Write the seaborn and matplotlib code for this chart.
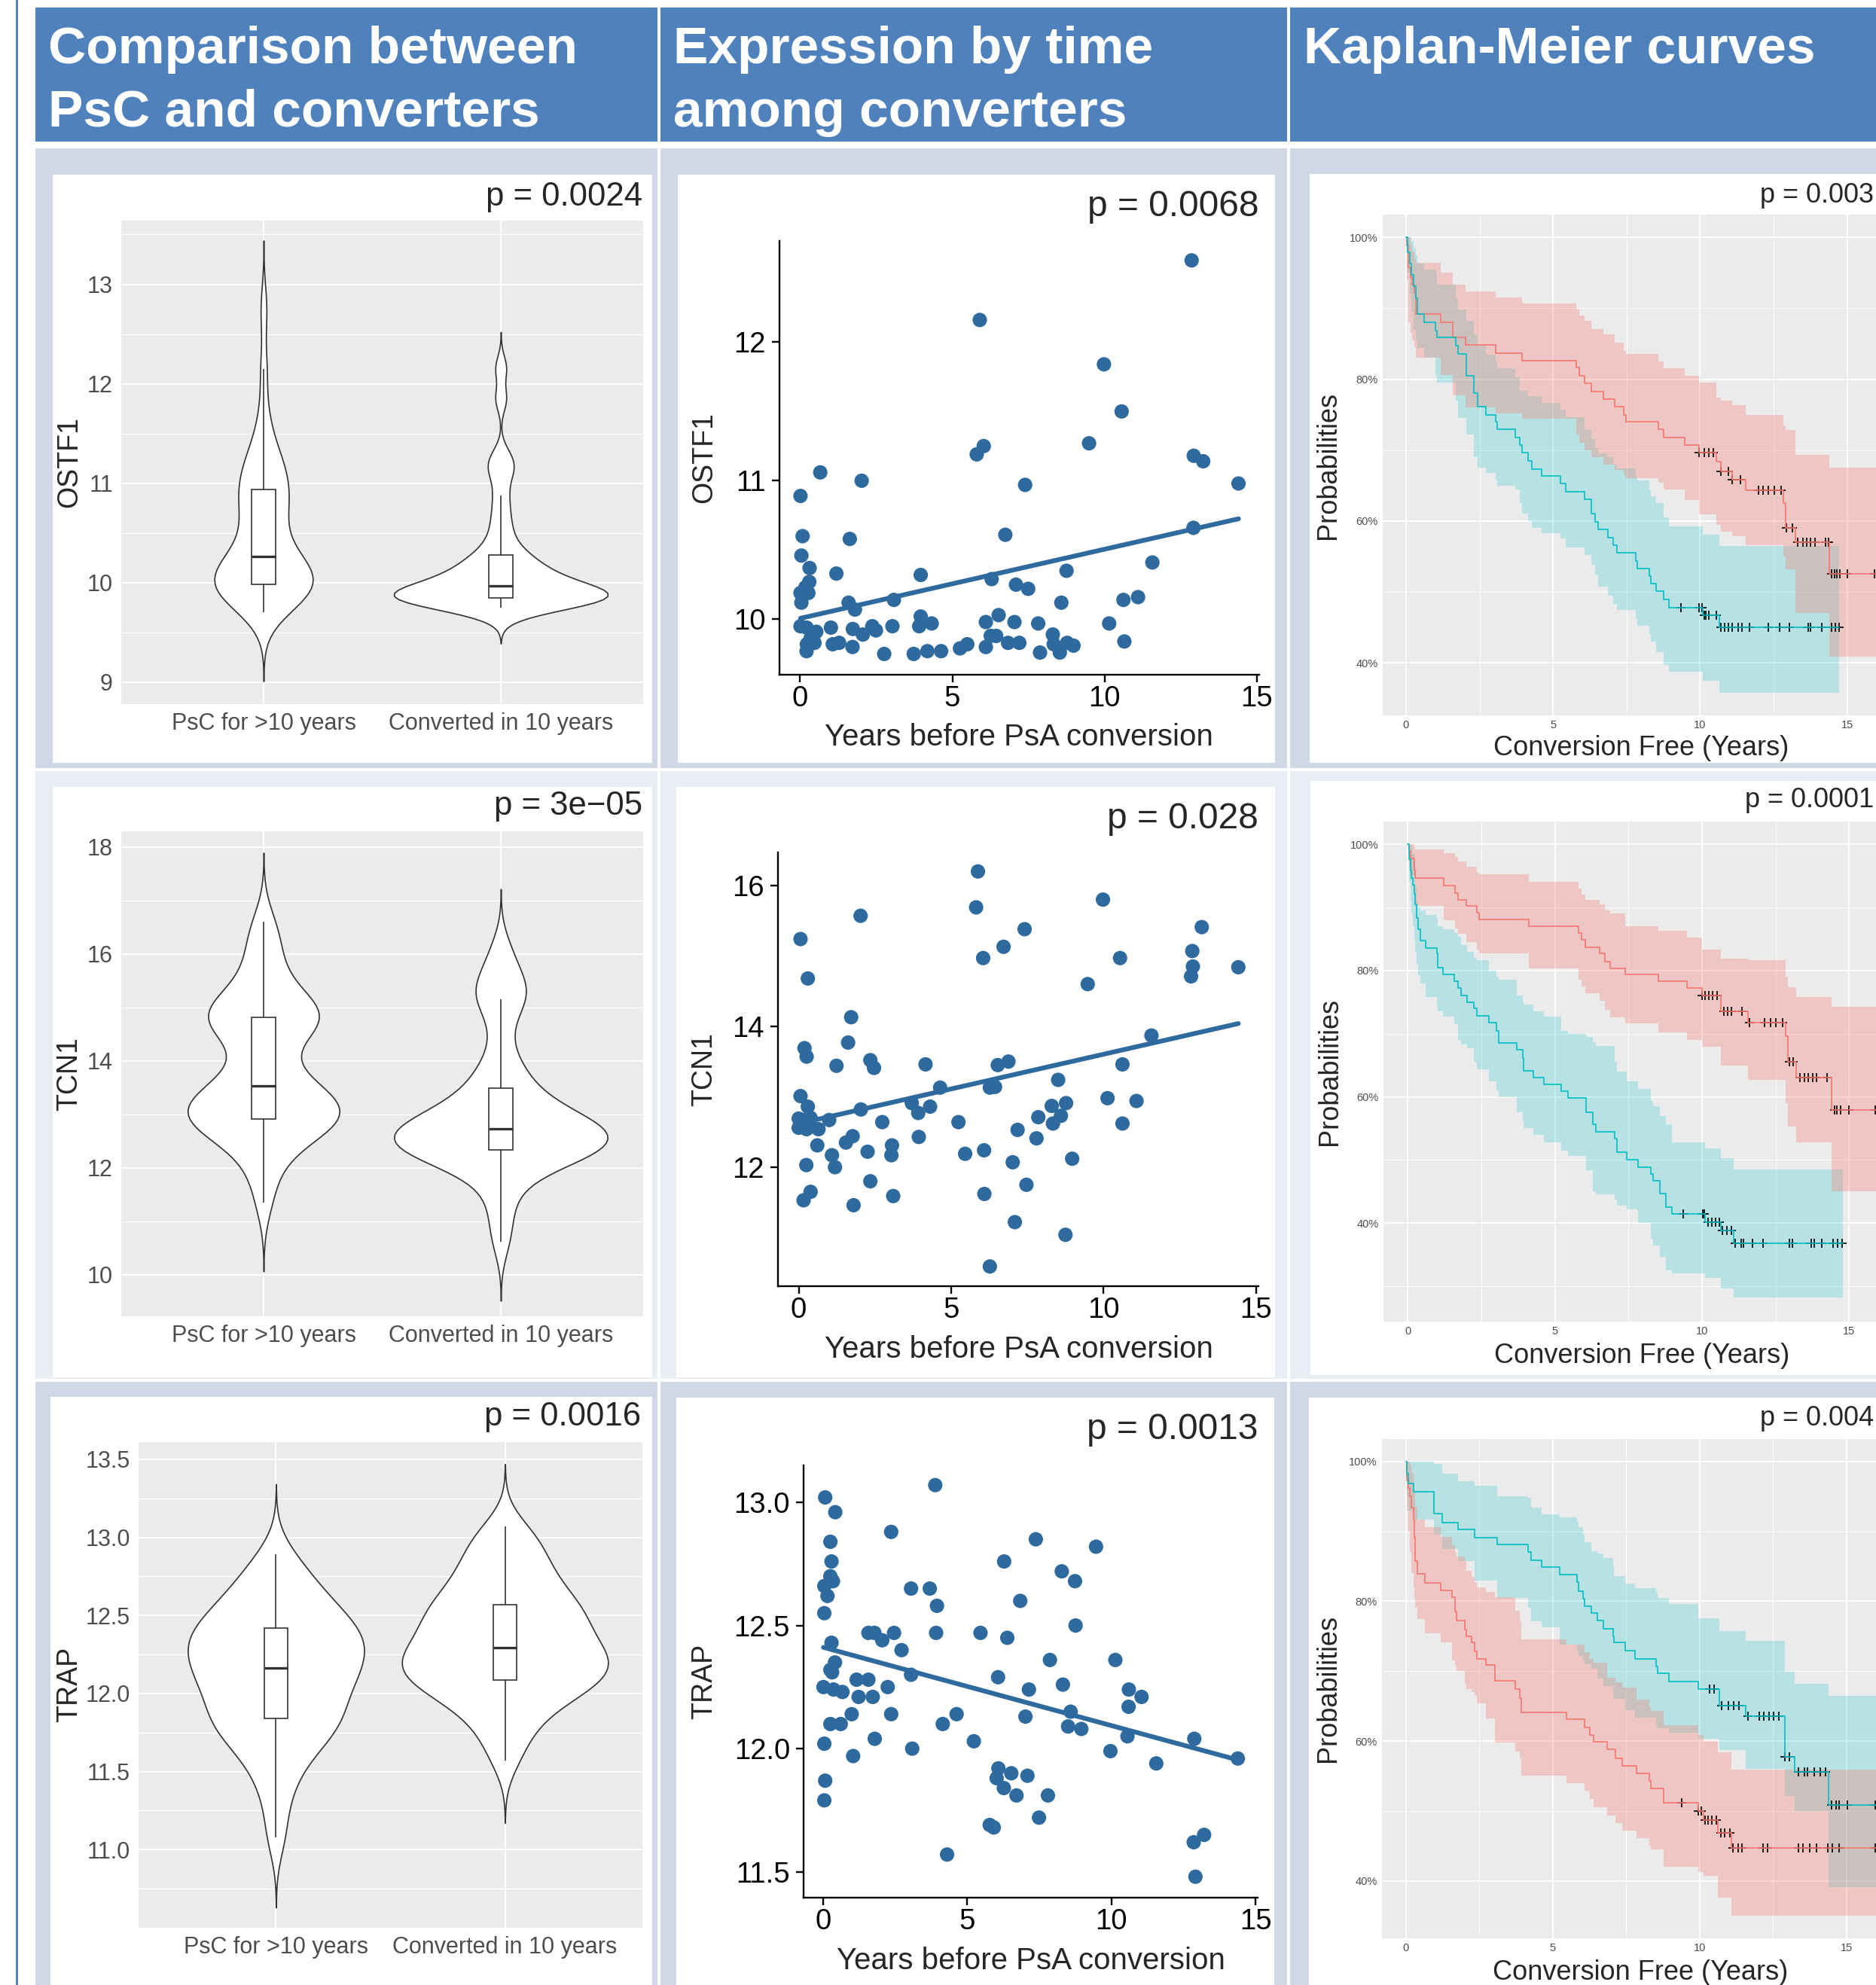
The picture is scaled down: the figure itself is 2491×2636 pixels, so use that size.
import numpy as np
import pandas as pd
import matplotlib
matplotlib.use("Agg")
import matplotlib.pyplot as plt
from matplotlib.patches import Rectangle
from matplotlib.ticker import MultipleLocator, FormatStrFormatter, FuncFormatter
import seaborn as sns

# ---------------- data ----------------
groups = ['PsC for >10 years', 'Converted in 10 years']

# violin panels: expression values per group
ostf1_psc = [9.70, 9.76, 9.81, 9.85, 9.88, 9.91, 9.93, 9.95, 9.96, 9.97,
             9.99, 10.01, 10.04, 10.07, 10.10, 10.13, 10.16, 10.19, 10.21, 10.23,
             10.30, 10.38, 10.46, 10.54, 10.62, 10.69, 10.76, 10.82, 10.87, 10.92,
             10.98, 11.04, 11.10, 11.17, 11.24, 11.32, 11.45, 11.70, 12.15, 12.75]
ostf1_conv = [9.75, 9.77, 9.79, 9.80, 9.81, 9.82, 9.83, 9.83, 9.84, 9.84,
              9.85, 9.86, 9.87, 9.88, 9.89, 9.90, 9.92, 9.93, 9.94, 9.96,
              9.98, 10.00, 10.03, 10.06, 10.09, 10.12, 10.15, 10.19, 10.22, 10.26,
              10.33, 10.42, 10.55, 10.70, 10.88, 11.08, 11.18, 11.28, 11.85, 12.16]
tcn1_psc = [11.35, 11.85, 12.15, 12.40, 12.55, 12.68, 12.76, 12.82, 12.86, 12.88,
            12.92, 12.98, 13.04, 13.10, 13.15, 13.20, 13.26, 13.33, 13.40, 13.48,
            13.58, 13.72, 13.90, 14.20, 14.50, 14.62, 14.70, 14.75, 14.78, 14.80,
            14.85, 14.92, 15.00, 15.10, 15.25, 15.45, 15.70, 16.00, 16.30, 16.60]
tcn1_conv = [10.62, 11.10, 11.50, 11.80, 12.00, 12.10, 12.18, 12.24, 12.28, 12.30,
             12.34, 12.38, 12.42, 12.46, 12.50, 12.54, 12.58, 12.62, 12.66, 12.70,
             12.74, 12.78, 12.83, 12.88, 12.94, 13.00, 13.08, 13.18, 13.30, 13.45,
             13.60, 13.80, 14.00, 14.50, 15.00, 15.15, 15.30, 15.45, 15.70, 16.10]
trap_psc = [11.08, 11.30, 11.45, 11.55, 11.62, 11.68, 11.73, 11.77, 11.80, 11.82,
            11.85, 11.89, 11.93, 11.97, 12.01, 12.04, 12.07, 12.10, 12.13, 12.15,
            12.18, 12.21, 12.24, 12.27, 12.29, 12.31, 12.34, 12.36, 12.39, 12.41,
            12.44, 12.47, 12.50, 12.54, 12.58, 12.62, 12.67, 12.73, 12.80, 12.89]
trap_conv = [11.57, 11.70, 11.79, 11.86, 11.92, 11.96, 12.00, 12.03, 12.05, 12.07,
             12.09, 12.12, 12.14, 12.16, 12.18, 12.20, 12.22, 12.24, 12.26, 12.28,
             12.31, 12.34, 12.37, 12.40, 12.43, 12.46, 12.49, 12.52, 12.54, 12.56,
             12.60, 12.64, 12.68, 12.72, 12.77, 12.82, 12.88, 12.94, 13.00, 13.07]

# scatter panels: years before conversion vs expression
years_ostf1 = [12.86, 5.90, 9.98, 10.56, 9.49, 6.03, 5.80, 12.93, 13.24, 0.66,
               2.02, 7.39, 14.40, 0.01, 12.92, 6.74, 0.08, 1.63, 0.04, 0.31,
               1.19, 3.96, 11.57, 8.75, 0.30, 0.17, 6.29, 7.09, 7.49, 0.01,
               0.27, 0.04, 1.59, 1.80, 3.08, 8.58, 10.62, 11.10, 6.52, 3.96,
               3.91, 4.32, 6.10, 7.04, 7.82, 10.15, 0.01, 0.21, 0.53, 1.01,
               1.73, 2.06, 2.37, 2.49, 3.03, 0.34, 0.22, 0.47, 0.21, 1.07,
               1.28, 1.72, 2.76, 3.73, 4.18, 4.63, 5.25, 5.49, 6.10, 6.26,
               6.44, 6.83, 7.20, 7.88, 8.30, 8.33, 8.53, 8.77, 8.98, 10.65]
expr_ostf1 = [12.59, 12.16, 11.84, 11.50, 11.27, 11.25, 11.19, 11.18, 11.14, 11.06,
              11.00, 10.97, 10.98, 10.89, 10.66, 10.61, 10.60, 10.58, 10.46, 10.37,
              10.33, 10.32, 10.41, 10.35, 10.27, 10.23, 10.29, 10.25, 10.22, 10.19,
              10.19, 10.12, 10.12, 10.07, 10.14, 10.12, 10.14, 10.16, 10.03, 10.02,
              9.95, 9.97, 9.98, 9.98, 9.97, 9.97, 9.95, 9.94, 9.91, 9.94,
              9.93, 9.89, 9.95, 9.92, 9.95, 9.86, 9.82, 9.83, 9.77, 9.82,
              9.83, 9.80, 9.75, 9.75, 9.77, 9.77, 9.79, 9.82, 9.80, 9.88,
              9.88, 9.83, 9.83, 9.76, 9.89, 9.82, 9.76, 9.83, 9.81, 9.84]
years_tcn1 = [5.88, 5.82, 9.98, 2.03, 7.41, 13.22, 0.06, 6.72, 12.91, 6.05,
              10.54, 14.42, 12.93, 12.87, 0.30, 9.48, 1.72, 11.57, 1.62, 0.19,
              0.26, 2.35, 6.88, 6.53, 4.16, 10.62, 1.24, 2.47, 8.51, 4.64,
              6.27, 6.44, 0.06, 10.13, 11.08, 8.77, 3.71, 0.30, 4.31, 8.30,
              3.92, 2.04, 8.60, 7.86, 0.00, 1.00, 0.39, 8.34, 10.62, 2.74,
              5.24, 0.00, 0.26, 0.65, 7.18, 1.77, 3.94, 7.80, 1.55, 0.61,
              3.06, 2.26, 6.08, 1.09, 3.04, 5.46, 8.97, 1.19, 0.25, 7.02,
              2.35, 7.47, 0.39, 0.16, 3.10, 6.09, 1.80, 7.09, 8.75, 6.27,
              0.17, 0.30]
expr_tcn1 = [16.20, 15.69, 15.80, 15.57, 15.38, 15.41, 15.24, 15.13, 15.07, 14.97,
             14.97, 14.84, 14.85, 14.71, 14.68, 14.60, 14.13, 13.87, 13.77, 13.69,
             13.57, 13.52, 13.50, 13.45, 13.46, 13.46, 13.44, 13.41, 13.24, 13.13,
             13.13, 13.14, 13.01, 12.98, 12.94, 12.91, 12.91, 12.86, 12.86, 12.87,
             12.77, 12.82, 12.73, 12.71, 12.69, 12.67, 12.70, 12.62, 12.62, 12.64,
             12.64, 12.56, 12.54, 12.54, 12.53, 12.44, 12.43, 12.41, 12.35, 12.31,
             12.31, 12.22, 12.24, 12.17, 12.17, 12.19, 12.12, 12.00, 12.03, 12.07,
             11.80, 11.75, 11.65, 11.53, 11.59, 11.62, 11.46, 11.22, 11.04, 10.59,
             12.67, 12.56]
years_trap = [3.89, 0.07, 0.42, 2.36, 7.38, 9.47, 0.25, 0.29, 6.28, 8.28,
              0.25, 0.34, 0.04, 8.74, 3.05, 3.70, 0.15, 6.84, 3.95, 0.04,
              8.76, 1.57, 1.78, 2.46, 3.92, 5.46, 6.39, 2.05, 0.29, 2.72,
              7.87, 10.14, 0.41, 0.25, 0.31, 3.05, 6.07, 1.16, 1.57, 8.32,
              0.01, 0.36, 2.24, 0.67, 7.14, 10.61, 11.05, 1.23, 1.72, 8.59,
              10.60, 2.36, 0.99, 4.63, 7.02, 0.25, 0.61, 4.15, 8.50, 8.96,
              1.79, 10.56, 12.88, 5.23, 0.04, 3.09, 9.97, 1.04, 14.39, 11.56,
              6.08, 6.53, 7.09, 0.07, 6.02, 6.27, 6.71, 7.80, 0.04, 7.49,
              5.78, 5.92, 13.22, 12.86, 4.30, 12.92]
expr_trap = [13.07, 13.02, 12.96, 12.88, 12.85, 12.82, 12.84, 12.76, 12.76, 12.72,
             12.70, 12.68, 12.66, 12.68, 12.65, 12.65, 12.62, 12.60, 12.58, 12.55,
             12.50, 12.47, 12.47, 12.47, 12.47, 12.47, 12.45, 12.44, 12.43, 12.40,
             12.36, 12.36, 12.35, 12.32, 12.31, 12.30, 12.29, 12.28, 12.28, 12.26,
             12.25, 12.24, 12.25, 12.23, 12.24, 12.24, 12.21, 12.21, 12.21, 12.15,
             12.17, 12.14, 12.14, 12.14, 12.13, 12.10, 12.10, 12.10, 12.09, 12.08,
             12.04, 12.05, 12.04, 12.03, 12.02, 12.00, 11.99, 11.97, 11.96, 11.94,
             11.92, 11.90, 11.89, 11.87, 11.88, 11.84, 11.81, 11.81, 11.79, 11.72,
             11.69, 11.68, 11.65, 11.62, 11.57, 11.48]

# Kaplan-Meier panels: step times, survival %, lower / upper CI %, censor times
km1_red_t = [0, 0.03, 0.08, 0.15, 0.22, 0.28, 0.33, 1.19, 1.60, 2.02, 3.06, 3.94, 5.80, 5.90, 6.06, 6.29,
             6.72, 7.09, 7.40, 7.48, 8.58, 8.75, 9.48, 9.97, 10.56, 10.71, 11.10, 11.55, 12.84, 12.91, 13.23, 14.39]
km1_red_s = [100, 98.8, 95.8, 94.4, 93.3, 92.2, 89.2, 88.0, 85.9, 84.8, 83.7, 82.6, 81.6, 80.5, 79.4, 78.3,
             77.2, 76.1, 75.0, 74.0, 72.9, 71.8, 70.7, 69.6, 68.4, 67.0, 65.8, 64.3, 62.5, 59.0, 57.0, 52.6]
km1_red_lo = [100, 94, 88, 86.5, 85.5, 84.5, 83.0, 80.6, 77.7, 76.0, 75.2, 74.4, 72.2, 71.0, 70.0, 69.0,
              68.0, 67.2, 66.5, 66.0, 65.4, 64.5, 63.0, 60.9, 59.5, 58.5, 57.9, 56.6, 55.0, 53.2, 47.0, 40.9]
km1_red_hi = [100, 100, 100, 99, 98, 97, 96.4, 95.0, 93.3, 92.4, 91.5, 90.7, 89.8, 89.0, 88.2, 87.1,
              86.3, 85.2, 84.0, 83.6, 82.5, 81.5, 80.5, 79.5, 77.4, 77.0, 76.3, 75.0, 73.5, 72.8, 69.3, 67.5]
km1_red_cens = [9.97, 10.13, 10.30, 10.45, 10.71, 10.95, 11.10, 11.36, 11.98, 12.13, 12.33, 12.52, 12.75,
                12.93, 13.14, 13.32, 13.49, 13.62, 13.75, 13.91, 14.26, 14.37, 14.46, 14.56, 14.65, 14.74,
                15.01, 15.94]
km1_teal_t = [0, 0.06, 0.12, 0.18, 0.27, 0.34, 0.40, 0.63, 0.99, 1.06, 1.69, 1.77, 2.05, 2.31, 2.44, 2.73,
              3.05, 3.11, 3.71, 3.86, 3.95, 4.15, 4.28, 4.61, 5.25, 5.44, 6.06, 6.29, 6.42, 6.54, 6.86,
              7.04, 7.16, 7.80, 7.87, 8.28, 8.32, 8.51, 8.77, 8.94, 10.10, 10.65]
km1_teal_s = [100, 97.9, 96.3, 94.7, 93.1, 91.4, 89.2, 88.0, 86.8, 85.9, 84.7, 83.6, 80.5, 78.0, 76.1, 75.0,
              74.0, 72.9, 71.8, 70.7, 69.6, 68.5, 67.3, 66.4, 65.3, 64.1, 63.1, 61.0, 59.9, 58.8, 57.7,
              56.6, 55.5, 54.4, 53.3, 52.2, 51.2, 50.1, 48.9, 47.8, 46.7, 45.0]
km1_teal_lo = [100, 95, 92, 89.5, 87, 85.5, 84.4, 83.0, 80.6, 79.5, 77.0, 74.5, 72.2, 69.0, 67.5, 66.8,
               65.7, 65.0, 64.4, 62.5, 61.1, 60.0, 59.0, 58.3, 57.6, 56.3, 55.2, 53.8, 52.5, 50.8, 49.5,
               48.3, 47.5, 46.2, 45.2, 44.1, 43.0, 41.5, 39.7, 38.8, 37.5, 35.8]
km1_teal_hi = [100, 100, 100, 99.5, 98.5, 97.5, 96.3, 95.5, 95.0, 93.3, 91.4, 89.8, 88.2, 86.3, 84.7, 83.5,
               82.5, 81.5, 80.3, 78.4, 78.4, 77.6, 77.6, 76.7, 75.7, 74.6, 72.8, 71.6, 70.3, 69.5, 69.0,
               68.0, 67.4, 66.5, 65.7, 64.4, 63.5, 62.5, 60.5, 59.2, 58.1, 56.5]
km1_teal_cens = [9.35, 9.97, 10.06, 10.13, 10.19, 10.30, 10.56, 10.71, 10.84, 10.97, 11.10, 11.29, 11.42,
                 11.68, 12.33, 12.71, 13.04, 13.68, 13.75, 14.13, 14.46, 14.59, 14.72]

km2_red_t = [0, 0.04, 0.09, 0.22, 0.26, 1.23, 1.61, 1.70, 2.00, 2.36, 2.43, 4.13, 5.81, 5.90, 6.04, 6.52,
             6.71, 6.87, 7.38, 8.52, 9.49, 10.00, 10.65, 11.55, 12.84, 12.91, 13.21, 14.39]
km2_red_s = [100, 98.9, 97.8, 96.0, 94.6, 93.5, 92.3, 91.2, 90.2, 89.2, 88.1, 87.0, 85.9, 84.9, 83.7, 82.7,
             81.4, 80.4, 79.4, 78.3, 77.2, 76.1, 73.5, 71.8, 69.6, 65.5, 63.1, 57.9]
km2_red_lo = [100, 96.4, 95.0, 93.3, 90.2, 88.0, 86.7, 85.8, 84.5, 83.3, 82.7, 80.3, 78.6, 77.5, 76.4, 75.2,
              73.8, 72.6, 71.6, 70.2, 69.0, 67.9, 64.9, 62.7, 59.0, 55.3, 52.8, 45.0]
km2_red_hi = [100, 100, 100, 99.5, 99.2, 98.6, 98.0, 97.3, 96.5, 95.5, 95.2, 94.0, 93.0, 92.0, 91.2, 90.5,
              89.5, 89.0, 87.0, 86.3, 85.2, 83.3, 81.9, 81.6, 79.0, 77.4, 75.8, 74.3]
km2_red_cens = [10.00, 10.11, 10.24, 10.37, 10.52, 10.75, 10.88, 11.01, 11.36, 11.62, 12.13, 12.33, 12.52,
                12.74, 12.97, 13.10, 13.33, 13.49, 13.62, 13.75, 13.90, 14.26, 14.50, 14.59, 14.72, 15.00,
                15.88]
km2_teal_t = [0, 0.04, 0.09, 0.13, 0.17, 0.22, 0.26, 0.30, 0.36, 0.43, 0.61, 0.99, 1.02, 1.20, 1.59, 1.72,
              1.81, 2.03, 2.26, 2.35, 2.75, 3.03, 3.10, 3.72, 3.90, 3.94, 4.26, 4.62, 5.23, 5.45, 6.07,
              6.29, 6.39, 7.03, 7.12, 7.45, 7.83, 8.26, 8.35, 8.58, 8.78, 8.97, 10.11, 10.65, 11.08]
km2_teal_s = [100, 97.6, 95.9, 94.6, 93.6, 92.1, 90.5, 88.3, 86.5, 84.7, 83.6, 82.7, 80.5, 79.4, 78.3, 77.2,
              76.1, 75.0, 74.0, 72.8, 71.8, 70.5, 68.5, 67.4, 66.2, 64.1, 63.1, 62.0, 60.9, 59.8, 57.6,
              55.6, 54.4, 53.4, 51.2, 50.1, 48.9, 47.8, 46.7, 44.7, 42.5, 41.4, 40.1, 38.8, 36.8]
km2_teal_lo = [100, 94, 91, 89, 87, 85, 83, 81, 79.3, 77.9, 75.8, 74.5, 73.5, 72.7, 71.5, 69.0,
               68.3, 67.7, 65.5, 64.3, 62.5, 61.0, 59.9, 57.5, 56.2, 55.0, 54.0, 52.8, 51.5, 50.6, 48.4,
               45.0, 44.5, 43.7, 42.8, 42.2, 40.0, 37.5, 36.5, 34.7, 32.5, 32.0, 31.3, 29.7, 28.2]
km2_teal_hi = [100, 100, 100, 99.5, 98.5, 96, 93, 90.8, 90, 89.5, 88.8, 88.1, 87, 86.5, 86, 85.3,
               84, 83, 82, 81.6, 80, 79, 78.6, 76, 75, 74.6, 73.5, 72.7, 70.5, 70, 69.5,
               68.7, 68, 65.5, 64, 62.4, 61.2, 59.3, 58.5, 57, 55.6, 52.8, 51.8, 50.3, 48.5]
km2_teal_cens = [9.36, 10.03, 10.09, 10.20, 10.33, 10.46, 10.58, 10.69, 10.84, 11.00, 11.13, 11.33, 11.42,
                 11.72, 12.07, 12.97, 13.06, 13.71, 13.81, 14.07, 14.46, 14.61, 14.75]

km3_teal_t = [0, 0.04, 0.09, 0.26, 0.97, 1.23, 1.78, 2.33, 3.10, 4.16, 4.27, 4.63, 5.24, 5.82, 5.88, 6.04,
              6.08, 6.31, 6.53, 6.72, 7.05, 7.09, 7.47, 7.80, 8.51, 8.57, 8.95, 9.96, 10.67, 11.57, 12.91,
              13.23, 14.39]
km3_teal_s = [100, 98.2, 96.8, 95.7, 92.5, 91.3, 90.3, 89.1, 88.1, 87.1, 85.9, 84.9, 83.8, 82.7, 81.5, 80.4,
              79.3, 78.3, 77.3, 76.1, 75.0, 74.1, 72.9, 71.8, 70.7, 69.7, 68.5, 67.5, 65.1, 63.6, 57.8,
              55.6, 50.9]
km3_teal_lo = [100, 95, 93, 91.7, 89.5, 87.5, 85.8, 83.0, 80.5, 79.1, 77.1, 76.3, 73.8, 72.8, 72.2, 71.5,
               71.0, 70.4, 69.0, 67.9, 66.8, 66.0, 64.4, 63.4, 62.3, 61.8, 61.2, 60.3, 58.7, 56.0, 52.2,
               50.0, 39.1]
km3_teal_hi = [100, 100, 100, 100, 99.6, 98.2, 97.2, 96.5, 95.0, 94.8, 93.4, 92.4, 92.0, 91.4, 90.6, 89.5,
               88.5, 87.2, 86.8, 86.2, 85, 83.6, 82.5, 81.9, 81.3, 80.5, 79.6, 77.6, 75.7, 74.3, 69.9,
               68.2, 66.5]
km3_teal_cens = [10.35, 10.50, 10.76, 10.97, 11.15, 11.33, 11.64, 12.03, 12.18, 12.35, 12.52, 12.70, 12.91,
                 13.06, 13.35, 13.58, 13.68, 13.90, 14.10, 14.29, 14.48, 14.64, 14.74, 15.03, 15.97]
km3_red_t = [0, 0.04, 0.09, 0.13, 0.19, 0.26, 0.28, 0.32, 0.39, 0.65, 1.19, 1.58, 1.68, 1.72, 2.00, 2.07,
             2.24, 2.33, 2.43, 2.72, 3.04, 3.72, 3.88, 3.94, 5.46, 6.08, 6.27, 6.40, 6.85, 7.14, 7.37,
             7.86, 8.28, 8.34, 8.77, 9.96, 10.13, 10.63, 11.07]
km3_red_s = [100, 97.3, 96.2, 95.0, 93.4, 91.7, 89.2, 85.8, 83.9, 82.6, 81.6, 80.6, 78.5, 77.3, 76.0, 75.0,
             74.1, 72.8, 71.8, 70.9, 68.6, 67.5, 66.2, 64.1, 63.1, 62.0, 60.9, 59.9, 58.8, 57.5, 56.5,
             55.4, 54.3, 53.2, 51.2, 50.0, 48.7, 46.9, 44.7]
km3_red_lo = [100, 93, 90, 87, 84, 82, 80.5, 79.1, 77.5, 75.4, 74.1, 71.5, 70.8, 70.0, 68.2, 67.5,
              67.0, 66.6, 65.4, 63.2, 59.8, 58.5, 57.5, 55.1, 54.0, 52.9, 51.7, 50.5, 49.4, 48.3, 47.2,
              46.1, 45.0, 44.5, 42.0, 41.3, 40.7, 37.6, 35.0]
km3_red_hi = [100, 100, 100, 99.5, 98.5, 97.3, 95.5, 93.5, 91.7, 90.6, 89.2, 88.0, 87.0, 86.4, 85.8, 84.4,
              83.5, 82.7, 82.0, 81.3, 80.6, 78.7, 77.1, 74.6, 73.8, 72.7, 71.8, 71.2, 69.1, 68.4, 67.7,
              65.9, 65.0, 64.3, 62.3, 60.9, 60.0, 58.4, 55.9]
km3_red_cens = [9.38, 9.96, 10.06, 10.18, 10.28, 10.41, 10.58, 10.71, 10.86, 11.02, 11.12, 11.32, 11.44,
                12.16, 12.32, 13.35, 13.51, 13.75, 13.97, 14.35, 14.51, 14.74, 15.97]

# ---------------- figure set-up ----------------
W, H = 2491, 2636
BLUE = '#4F81BD'
ROW_DARK = '#D0D8E8'
ROW_LIGHT = '#E9EDF4'
POINT = '#2E6A9E'
RED = '#F8766D'
TEAL = '#00BFC4'

sns.set_style("white")
plt.rcParams['font.family'] = ['Liberation Sans', 'DejaVu Sans']

fig = plt.figure(figsize=(W / 100, H / 100), dpi=100)


def box(x0, y0, x1, y1, color):
    fig.add_artist(Rectangle((x0 / W, 1 - y1 / H), (x1 - x0) / W, (y1 - y0) / H,
                             transform=fig.transFigure, facecolor=color,
                             edgecolor='none', zorder=-5))


def axes_px(x0, y0, x1, y1):
    return fig.add_axes([x0 / W, 1 - y1 / H, (x1 - x0) / W, (y1 - y0) / H])


def text_px(x, y, s, **kw):
    fig.text(x / W, 1 - y / H, s, **kw)


# table background (header, banded rows, white cell borders)
box(21, 0, 24, H, BLUE)
box(47, 10, W, 188, BLUE)
box(47, 197, W, 1020, ROW_DARK)
box(47, 1024, W, 1831, ROW_LIGHT)
box(47, 1835, W, H, ROW_DARK)
for xs in (873, 1709):
    box(xs, 0, xs + 4, H, 'white')

# white panels behind each plot
for p in [(70, 232, 866, 1013), (900, 232, 1693, 1013), (1739, 231, W, 1013),
          (70, 1045, 866, 1829), (898, 1045, 1693, 1829), (1740, 1037, W, 1826),
          (67, 1855, 866, H), (898, 1856, 1692, H), (1738, 1856, W, H)]:
    box(*p, 'white')

# header texts
hdr = dict(color='white', fontsize=50, fontweight='bold', va='baseline', ha='left')
text_px(64, 84, 'Comparison between', **hdr)
text_px(64, 168, 'PsC and converters', **hdr)
text_px(894, 84, 'Expression by time', **hdr)
text_px(894, 168, 'among converters', **hdr)
text_px(1731, 84, 'Kaplan-Meier curves', **hdr)


# ---------------- column 1: violin + box ----------------
def violin_panel(ax, psc, conv, widths, bws, ylim, major, minor, fmt):
    for vals, grp, w, bw in zip([psc, conv], groups, widths, bws):
        v = np.array(vals)
        sns.violinplot(x=[grp] * len(v), y=v, order=groups, ax=ax, inner=None, cut=3,
                       bw_method=bw / np.std(v, ddof=1), density_norm='area', width=w,
                       color='white', linecolor='#333333', linewidth=1.2, saturation=1)
    df = pd.DataFrame({'grp': [groups[0]] * len(psc) + [groups[1]] * len(conv),
                       'val': psc + conv})
    sns.boxplot(data=df, x='grp', y='val', order=groups, ax=ax, width=0.1,
                showfliers=False, color='white', linecolor='#333333', linewidth=1.2,
                saturation=1, medianprops={'linewidth': 2.4},
                capprops={'visible': False})
    ax.set_xlim(-0.6, 1.6)
    ax.set_ylim(*ylim)
    ax.set_xlabel('')
    ax.set_ylabel('')
    ax.set_facecolor('#EBEBEB')
    ax.set_yticks(major)
    ax.yaxis.set_minor_locator(MultipleLocator(minor))
    ax.yaxis.set_major_formatter(FormatStrFormatter(fmt))
    ax.set_axisbelow(True)
    ax.grid(which='major', color='white', linewidth=1.5)
    ax.grid(which='minor', axis='y', color='white', linewidth=0.8)
    ax.xaxis.grid(True, which='major', color='white', linewidth=1.5)
    for sp in ax.spines.values():
        sp.set_visible(False)
    ax.tick_params(which='major', length=3, width=1, color='#333333',
                   labelsize=22, labelcolor='#4D4D4D', pad=5)
    ax.tick_params(which='minor', length=0)


ax = axes_px(161, 293, 854, 935)
violin_panel(ax, ostf1_psc, ostf1_conv, (0.415, 0.9), (0.23, 0.12), (8.78, 13.64),
             [9, 10, 11, 12, 13], 0.5, '%d')
ax = axes_px(161, 1104, 854, 1748)
violin_panel(ax, tcn1_psc, tcn1_conv, (0.64, 0.9), (0.43, 0.37), (9.22, 18.29),
             [10, 12, 14, 16, 18], 1, '%d')
ax = axes_px(184, 1915, 853, 2560)
violin_panel(ax, trap_psc, trap_conv, (0.77, 0.9), (0.15, 0.133), (10.50, 13.61),
             [11.0, 11.5, 12.0, 12.5, 13.0, 13.5], 0.25, '%.1f')

for yc, lab in [(614, 'OSTF1'), (1426, 'TCN1'), (2237, 'TRAP')]:
    text_px(92, yc, lab, rotation=90, ha='center', va='center', fontsize=27)
text_px(853, 273, 'p = 0.0024', ha='right', va='baseline', fontsize=31.5)
text_px(853, 1082, 'p = 3e\u221205', ha='right', va='baseline', fontsize=31.5)
text_px(851, 1893, 'p = 0.0016', ha='right', va='baseline', fontsize=31.5)


# ---------------- column 2: expression vs time ----------------
def scatter_panel(ax, x, y, ylim, yticks, fmt):
    sns.regplot(x=np.array(x), y=np.array(y), ax=ax, ci=None, color=POINT,
                scatter_kws={'s': 190, 'alpha': 1, 'edgecolors': 'none'},
                line_kws={'linewidth': 4.5})
    ax.set_xlim(-0.68, 15.08)
    ax.set_ylim(*ylim)
    ax.set_xticks([0, 5, 10, 15])
    ax.set_yticks(yticks)
    ax.yaxis.set_major_formatter(FormatStrFormatter(fmt))
    ax.set_xlabel('')
    ax.set_ylabel('')
    ax.set_facecolor('white')
    for side in ('top', 'right'):
        ax.spines[side].set_visible(False)
    for side in ('left', 'bottom'):
        ax.spines[side].set_color('black')
        ax.spines[side].set_linewidth(1.7)
    ax.tick_params(axis='both', length=7, width=1.7, color='black', labelsize=27.5,
                   labelcolor='black', direction='out', left=True, bottom=True)
    ax.tick_params(axis='y', pad=6)
    ax.tick_params(axis='x', pad=3)


ax = axes_px(1035, 320, 1672, 896)
scatter_panel(ax, years_ostf1, expr_ostf1, (9.60, 12.73), [10, 11, 12], '%d')
ax = axes_px(1033, 1132, 1671, 1708)
scatter_panel(ax, years_tcn1, expr_tcn1, (10.31, 16.47), [12, 14, 16], '%d')
ax = axes_px(1067, 1946, 1670, 2520)
scatter_panel(ax, years_trap, expr_trap, (11.395, 13.15), [11.5, 12.0, 12.5, 13.0], '%.1f')

for yc, lab in [(608, 'OSTF1'), (1420, 'TCN1'), (2233, 'TRAP')]:
    text_px(935, yc, lab, rotation=90, ha='center', va='center', fontsize=27)
for yb, xc in [(990, 1353), (1803, 1353), (2615, 1369)]:
    text_px(xc, yb, 'Years before PsA conversion', ha='center', va='baseline', fontsize=29)
text_px(1672, 287, 'p = 0.0068', ha='right', va='baseline', fontsize=34.5)
text_px(1671, 1100, 'p = 0.028', ha='right', va='baseline', fontsize=34.5)
text_px(1670, 1911, 'p = 0.0013', ha='right', va='baseline', fontsize=34.5)


# ---------------- column 3: Kaplan-Meier curves ----------------
BAND_ALPHA = {TEAL: 0.22, RED: 0.3}


def km_panel(ax, curves, xlim, ylim):
    ax.set_facecolor('#EBEBEB')
    # teal ribbon first, red on top: the overlap turns grey as in the original
    for t, s, lo, hi, cens, col, t_end in sorted(curves, key=lambda c: c[5] != TEAL):
        tt = np.append(t, t_end)
        ax.fill_between(tt, np.append(lo, lo[-1]), np.append(hi, hi[-1]), step='post',
                        color=col, alpha=BAND_ALPHA[col], linewidth=0)
    for t, s, lo, hi, cens, col, t_end in curves:
        sns.lineplot(x=np.append(t, t_end), y=np.append(s, s[-1]), ax=ax, color=col,
                     linewidth=1.2, drawstyle='steps-post', estimator=None)
    for t, s, lo, hi, cens, col, t_end in curves:
        idx = np.searchsorted(np.array(t), np.array(cens), side='right') - 1
        sns.scatterplot(x=np.array(cens), y=np.array(s)[idx], ax=ax, marker='+',
                        color='black', s=80, linewidth=1.2)
    ax.set_xlim(*xlim)
    ax.set_ylim(*ylim)
    ax.set_xlabel('')
    ax.set_ylabel('')
    ax.xaxis.set_major_locator(MultipleLocator(5))
    ax.xaxis.set_minor_locator(MultipleLocator(2.5))
    ax.set_yticks([40, 60, 80, 100])
    ax.yaxis.set_minor_locator(MultipleLocator(10))
    ax.yaxis.set_major_formatter(FuncFormatter(lambda v, p: f'{int(v)}%'))
    ax.set_axisbelow(True)
    ax.grid(which='major', color='white', linewidth=1.3)
    ax.grid(which='minor', color='white', linewidth=0.6)
    for sp in ax.spines.values():
        sp.set_visible(False)
    ax.tick_params(which='major', length=2.5, width=0.8, color='#333333', labelsize=10.5,
                   labelcolor='#4D4D4D', pad=2)
    ax.tick_params(which='minor', length=0)


def km_axes(x0, y0, y1, xmin, px_per_year, xmax=17.2):
    return axes_px(x0, y0, x0 + (xmax - xmin) * px_per_year, y1)


ax = km_axes(1836, 285, 950, -0.79, 39.06)
km_panel(ax, [(km1_red_t, km1_red_s, km1_red_lo, km1_red_hi, km1_red_cens, RED, 16.5),
              (km1_teal_t, km1_teal_s, km1_teal_lo, km1_teal_hi, km1_teal_cens, TEAL, 14.72)],
         (-0.79, 17.2), (32.6, 103.2))
ax = km_axes(1837, 1091, 1755, -0.82, 39.09)
km_panel(ax, [(km2_red_t, km2_red_s, km2_red_lo, km2_red_hi, km2_red_cens, RED, 16.5),
              (km2_teal_t, km2_teal_s, km2_teal_lo, km2_teal_hi, km2_teal_cens, TEAL, 14.78)],
         (-0.82, 17.2), (24.4, 103.6))
ax = km_axes(1835, 1911, 2574, -0.81, 39.02)
km_panel(ax, [(km3_red_t, km3_red_s, km3_red_lo, km3_red_hi, km3_red_cens, RED, 16.5),
              (km3_teal_t, km3_teal_s, km3_teal_lo, km3_teal_hi, km3_teal_cens, TEAL, 16.5)],
         (-0.81, 17.2), (31.8, 103.2))

for xc, yc in [(1763, 618), (1766, 1423), (1763, 2242)]:
    text_px(xc, yc, 'Probabilities', rotation=90, ha='center', va='center', fontsize=26)
for xc, yb in [(2179, 1003), (2180, 1810), (2178, 2629)]:
    text_px(xc, yb, 'Conversion Free (Years)', ha='center', va='baseline', fontsize=26)
# the p-values sit at the right edge of the page
text_px(2488, 269, 'p = 0.003', ha='right', va='baseline', fontsize=26)
text_px(2488, 1072, 'p = 0.0001', ha='right', va='baseline', fontsize=26)
text_px(2488, 1893, 'p = 0.004', ha='right', va='baseline', fontsize=26)

fig.savefig('out.png', dpi=100)
